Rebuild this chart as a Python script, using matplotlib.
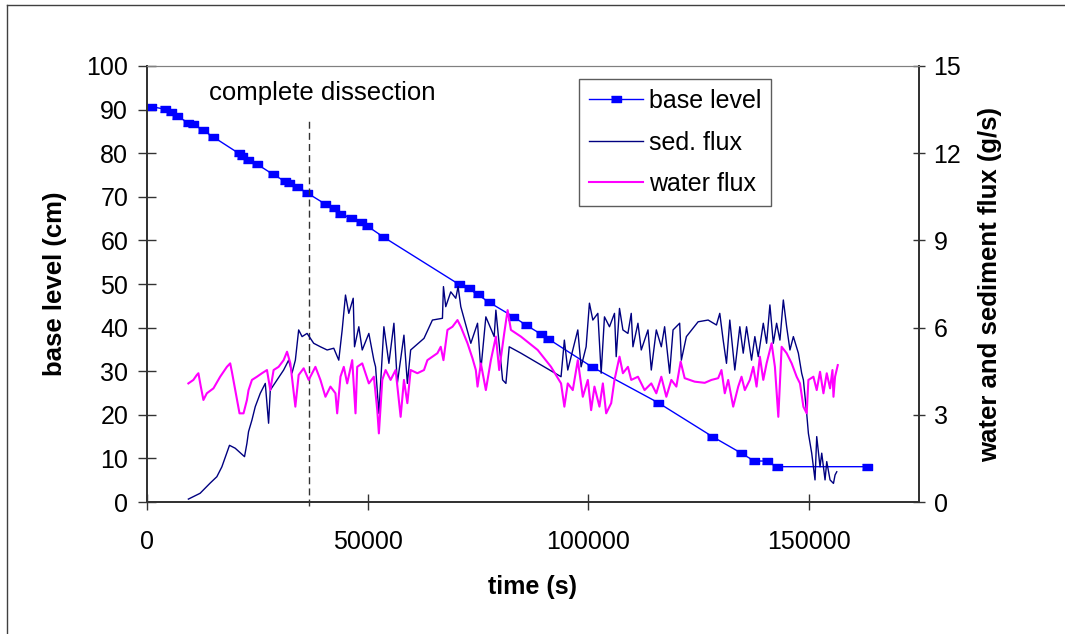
import matplotlib
matplotlib.use("Agg")
import matplotlib.pyplot as plt
from matplotlib.lines import Line2D

plt.rcParams['font.family'] = ['Liberation Sans', 'DejaVu Sans']

# base level (cm), markers at the measured points
base_t = [841, 4091, 5455, 6750, 9386, 10523, 12659, 14932, 20750, 21523,
          22886, 24932, 28477, 31205, 32114, 34023, 36295, 40455, 42341, 43864,
          46136, 48409, 49932, 53568, 70750, 72886, 74932, 77568, 83023, 85909,
          89318, 90841, 100841, 115841, 128182, 134545, 137659, 140455, 142727, 163182]
base_cm = [90.7, 90.1, 89.5, 88.5, 87.0, 86.7, 85.3, 83.8, 80.0, 79.4,
           78.4, 77.5, 75.2, 73.6, 73.2, 72.3, 70.9, 68.3, 67.4, 66.0,
           65.2, 64.2, 63.3, 60.8, 49.9, 49.0, 47.6, 45.8, 42.5, 40.6,
           38.5, 37.5, 31.0, 22.8, 15.0, 11.3, 9.4, 9.4, 8.1, 8.1]

# sediment flux (g/s)
sed_t = [9386, 12045, 14318, 15841, 16977, 18705, 20000, 22114, 22659, 23023,
         23795, 24545, 25682, 26818, 27568, 27955, 29477, 30977, 32114, 32886,
         33636, 34386, 35159, 36295, 37795, 39318, 40841, 42341, 43477, 44250,
         45000, 45750, 46750, 47045, 48023, 48795, 50295, 51432, 51818, 52568,
         53705, 54841, 55977, 56750, 58250, 59023, 59773, 62795, 64705, 66977,
         67205, 67727, 68864, 70000, 70523, 71136, 73409, 74932, 75682, 76818,
         78705, 79091, 80614, 81364, 82114, 84773, 90068, 93864, 94614, 95386,
         96136, 97659, 98409, 99545, 100295, 101068, 102205, 102955, 103705, 104841,
         105977, 106364, 107114, 107886, 109023, 109773, 110159, 111295, 112045, 113568,
         114318, 115455, 116591, 117341, 118477, 119250, 120750, 121136, 122273, 124932,
         127205, 129091, 129841, 130614, 131364, 132114, 133250, 134386, 135159, 135909,
         137045, 137795, 138568, 139705, 140455, 141205, 141977, 142727, 143477, 144250,
         145000, 145750, 146523, 147659, 148409, 148795, 149545, 149932, 150682, 151432,
         151818, 152568, 152955, 153705, 154091, 154841, 155614, 155977, 156364]
sed_gs = [0.10, 0.30, 0.65, 0.87, 1.21, 1.95, 1.85, 1.56, 2.02, 2.42,
          2.82, 3.28, 3.74, 4.08, 2.71, 3.85, 4.20, 4.54, 4.88, 4.44,
          4.88, 5.92, 5.69, 5.80, 5.46, 5.34, 5.23, 5.29, 4.88, 5.92,
          7.12, 6.49, 7.01, 5.34, 6.03, 5.23, 5.80, 4.88, 4.65, 3.05,
          6.03, 4.77, 6.15, 4.08, 5.74, 4.08, 5.23, 5.63, 6.26, 6.32,
          7.41, 6.72, 7.23, 7.01, 7.41, 6.72, 5.46, 6.15, 4.54, 6.37,
          5.69, 6.60, 4.20, 4.08, 5.34, 5.12, 4.65, 4.31, 5.57, 4.54,
          5.00, 5.92, 4.65, 5.34, 6.84, 6.26, 6.49, 4.43, 6.37, 6.03,
          6.49, 5.00, 6.66, 5.92, 5.80, 6.49, 5.34, 6.15, 5.23, 5.92,
          4.54, 5.92, 5.34, 6.03, 4.43, 5.92, 6.15, 4.88, 5.69, 6.20,
          6.26, 6.09, 6.49, 5.57, 4.77, 6.26, 4.54, 6.03, 5.12, 6.03,
          4.88, 5.69, 5.00, 6.15, 5.46, 6.78, 5.46, 6.15, 5.57, 6.95,
          6.03, 5.23, 5.69, 5.12, 4.43, 4.20, 3.05, 2.36, 1.68, 0.76,
          2.25, 1.21, 1.68, 0.76, 1.39, 0.76, 0.64, 0.93, 1.04]

# water flux (g/s)
water_t = [9386, 10523, 11295, 11659, 12205, 12795, 13568, 15068, 16591, 18114,
           18864, 19250, 20977, 21886, 22659, 23023, 23795, 24932, 26068, 27205,
           27955, 28705, 29841, 30977, 31750, 32500, 33636, 34386, 35523, 36659,
           37432, 38182, 39318, 40455, 41591, 42727, 43114, 43864, 44614, 45386,
           46523, 47273, 47659, 48795, 50295, 51432, 52205, 52568, 53341, 54091,
           55227, 56364, 57500, 58250, 59023, 59773, 61295, 62795, 63568, 65841,
           66591, 67205, 68114, 69250, 70386, 71136, 72659, 73795, 74545, 74932,
           75682, 76818, 77955, 79091, 79841, 80977, 81750, 82500, 84773, 88568,
           91591, 93864, 94614, 95386, 96523, 97659, 98795, 99932, 100682, 101432,
           102568, 103341, 104091, 105227, 105977, 107114, 107886, 109023, 109773, 111295,
           112795, 114318, 115455, 116591, 117727, 118864, 120000, 120977, 121886, 124159,
           126432, 127955, 129477, 130227, 130977, 131750, 132886, 134023, 134773, 135523,
           136659, 137432, 138182, 138932, 139705, 140455, 141591, 142341, 143114, 143864,
           145000, 146136, 147273, 148023, 148795, 149545, 149932, 151068, 151818, 152568,
           153341, 154091, 154841, 155386, 155614, 155977, 156591]
water_gs = [4.08, 4.20, 4.37, 4.43, 3.97, 3.51, 3.74, 3.91, 4.31, 4.65,
            4.77, 4.48, 3.05, 3.05, 3.51, 3.85, 4.20, 4.31, 4.43, 4.54,
            3.85, 4.54, 4.65, 4.88, 5.17, 4.77, 3.28, 4.37, 4.60, 4.20,
            4.43, 4.65, 4.20, 3.62, 3.97, 3.74, 3.05, 4.31, 4.65, 4.08,
            4.88, 3.05, 4.65, 4.77, 4.08, 4.31, 3.16, 2.36, 4.20, 4.54,
            4.20, 4.54, 2.93, 4.20, 3.40, 4.54, 4.43, 4.54, 4.88, 5.12,
            5.34, 4.88, 5.92, 6.03, 6.26, 6.03, 5.46, 4.94, 4.54, 3.97,
            4.77, 3.85, 4.88, 5.69, 4.54, 5.80, 6.60, 5.92, 5.69, 5.23,
            4.65, 4.08, 3.28, 4.08, 3.85, 4.88, 3.62, 4.20, 3.16, 3.97,
            3.28, 4.08, 3.05, 3.40, 4.20, 5.00, 4.43, 4.65, 4.20, 4.31,
            3.85, 4.08, 3.74, 4.31, 3.62, 4.20, 3.97, 4.83, 4.26, 4.14,
            4.10, 4.20, 4.26, 4.54, 3.74, 4.20, 3.28, 3.97, 4.31, 3.85,
            4.20, 4.65, 3.97, 5.00, 4.20, 4.77, 5.46, 4.65, 2.93, 5.34,
            5.12, 4.77, 4.31, 4.08, 3.28, 3.05, 4.20, 4.31, 3.85, 4.48,
            3.74, 4.43, 3.91, 4.54, 3.62, 4.31, 4.71]

dissection_t = 36700

fig = plt.figure(figsize=(10.65, 6.34), dpi=100)
ax = fig.add_axes([0.1380, 0.2082, 0.7249, 0.6877])
ax2 = ax.twinx()

rect = [(-1.5, -1), (1.5, -1), (1.5, 1), (-1.5, 1)]
ax.plot(base_t, base_cm, color='#0000ff', lw=1, marker=rect, markersize=6.5,
        label='base level')
ax.plot([dissection_t, dissection_t], [-1, 88], color='#333333', lw=1,
        dashes=(5, 3), clip_on=False)
ax.text(39800, 93.8, 'complete dissection', fontsize=18.5, ha='center', va='center')

ax2.plot(sed_t, sed_gs, color='#000080', lw=1, label='sed. flux')
ax2.plot(water_t, water_gs, color='#ff00ff', lw=1.5, label='water flux')

ax.set_xlim(0, 175000)
ax.set_ylim(0, 100)
ax2.set_ylim(0, 15)
ax.set_xticks([0, 50000, 100000, 150000])
ax.set_yticks(range(0, 101, 10))
ax2.set_yticks([0, 3, 6, 9, 12, 15])

for a in (ax, ax2):
    a.spines['top'].set_color('#808080')
    for s in ('left', 'right', 'bottom'):
        a.spines[s].set_color('#333333')
        a.spines[s].set_linewidth(1.3)
ax.tick_params(axis='y', direction='inout', length=13, width=1, color='#333333',
               labelsize=18, pad=7)
ax.tick_params(axis='x', direction='inout', length=11, width=1, color='#333333',
               labelsize=18, pad=15)
ax2.tick_params(axis='y', direction='inout', length=9, width=1, color='#333333',
                labelsize=18, pad=6)

ax.set_xlabel('time (s)', fontsize=18, fontweight='bold')
ax.set_ylabel('base level (cm)', fontsize=18.5, fontweight='bold')
ax2.set_ylabel('water and sediment flux (g/s)', fontsize=18.5, fontweight='bold')
ax.xaxis.set_label_coords(0.5, -0.168)
ax.yaxis.set_label_coords(-0.1036, 0.5)
ax2.yaxis.set_label_coords(1.0764, 0.5)

h1, l1 = ax.get_legend_handles_labels()
h2, l2 = ax2.get_legend_handles_labels()
leg = ax2.legend(h1 + h2, l1 + l2, loc='upper left',
                 bbox_to_anchor=(579 / 1065, 1 - 79 / 634),
                 bbox_transform=fig.transFigure, fontsize=18, fancybox=False,
                 frameon=True, borderaxespad=0, handlelength=2.15,
                 handletextpad=0.25, labelspacing=0.7, borderpad=0.4)
leg.get_frame().set_edgecolor('#333333')
leg.get_frame().set_linewidth(1)

# outer chart border
fig.add_artist(Line2D([7 / 1065, 7 / 1065], [0, 1 - 5 / 634], color='#404040', lw=1))
fig.add_artist(Line2D([7 / 1065, 1], [1 - 5 / 634, 1 - 5 / 634], color='#404040', lw=1))

fig.savefig('out.png', dpi=100)
